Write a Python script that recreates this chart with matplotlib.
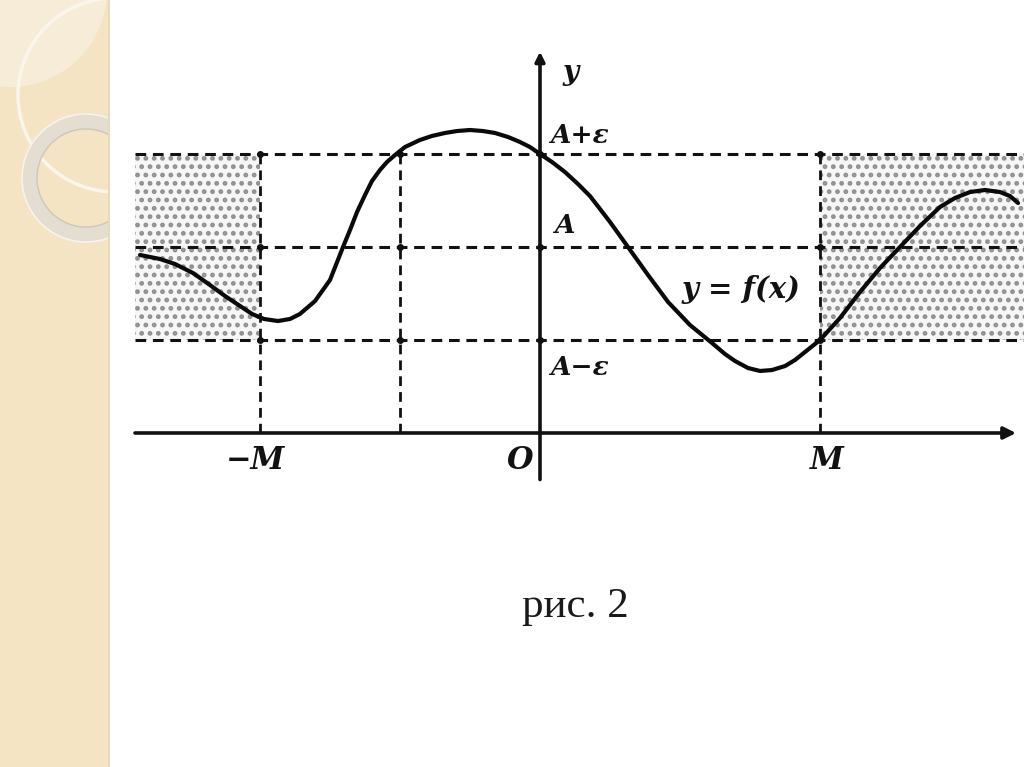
import matplotlib.pyplot as plt
from matplotlib.patches import Rectangle, Circle

# curve y = f(x) (M = 4, A = 2, eps = 1)
curve_x = [-5.714, -5.429, -5.214, -4.957, -4.714, -4.5, -4.286, -4.114, -3.943,
           -3.743, -3.571, -3.429, -3.214, -3.0, -2.814, -2.714, -2.614, -2.5,
           -2.4, -2.286, -2.186, -2.071, -1.929, -1.714, -1.543, -1.357, -1.186,
           -1.0, -0.814, -0.643, -0.457, -0.286, -0.143, 0.0, 0.171, 0.357,
           0.543, 0.714, 0.857, 1.0, 1.257, 1.543, 1.829, 2.143, 2.457, 2.643,
           2.786, 2.971, 3.143, 3.314, 3.5, 3.643, 3.786, 4.0, 4.286, 4.571,
           4.857, 5.143, 5.429, 5.714, 5.929, 6.143, 6.357, 6.571, 6.714, 6.829]
curve_y = [1.914, 1.871, 1.817, 1.720, 1.591, 1.473, 1.366, 1.280, 1.226,
           1.204, 1.226, 1.280, 1.419, 1.645, 2.0, 2.183, 2.376, 2.559,
           2.710, 2.828, 2.914, 2.989, 3.075, 3.151, 3.194, 3.226, 3.247,
           3.258, 3.247, 3.226, 3.183, 3.129, 3.075, 3.0, 2.914, 2.806,
           2.677, 2.548, 2.409, 2.269, 2.0, 1.699, 1.409, 1.161, 0.968, 0.849,
           0.774, 0.699, 0.667, 0.677, 0.720, 0.785, 0.871, 1.0, 1.237, 1.516,
           1.774, 2.0, 2.226, 2.430, 2.527, 2.591, 2.613, 2.591, 2.548, 2.473]

M = 4.0
A = 2.0
eps = 1.0
x_inner = -2.0          # extra dashed vertical between -M and O
x_left, x_right = -5.786, 6.914
levels = [A + eps, A, A - eps]
level_labels = ['A+ε', 'A', 'A−ε']
tick_pos = [-M, 0.0, M]
tick_labels = ['−M', 'O', 'M']

fig = plt.figure(figsize=(10.24, 7.67), dpi=100)
fig.patch.set_facecolor('white')

# decorative slide strip on the left
bg = fig.add_axes([0, 0, 110 / 1024, 1])
bg.set_xlim(0, 110)
bg.set_ylim(767, 0)
bg.axis('off')
bg.add_patch(Rectangle((0, 0), 110, 767, facecolor='#f4e4c4', edgecolor='none'))
bg.add_patch(Circle((10, -10), 97, facecolor='#f8eedb', edgecolor='none', alpha=0.9))
bg.add_patch(Circle((115, 95), 97, facecolor='none', edgecolor='#fbf6ec', lw=2.5))
bg.add_patch(Circle((86, 178), 57, facecolor='none', edgecolor='#e3ddd2', lw=11))
bg.add_patch(Circle((86, 178), 64, facecolor='none', edgecolor='#f8f4ec', lw=1.2))
bg.add_patch(Circle((86, 178), 49, facecolor='none', edgecolor='#cfc6b6', lw=1.0))
bg.plot([109, 109], [0, 767], color='#e9d9b8', lw=1.5)

ax = fig.add_axes([0, 0, 1, 1])
ax.set_facecolor('none')
ax.set_xlim(-540 / 70, 484 / 70)
ax.set_ylim(-334 / 93, 433 / 93)
ax.axis('off')

plt.rcParams['hatch.linewidth'] = 2.2
# dotted bands outside [-M, M]
ax.add_patch(Rectangle((x_left, A - eps), -M - x_left, 2 * eps, facecolor='#f6f6f6',
                       edgecolor='#8f8f8f', hatch='..', lw=0, zorder=1))
ax.add_patch(Rectangle((M, A - eps), x_right - M, 2 * eps, facecolor='#f6f6f6',
                       edgecolor='#8f8f8f', hatch='..', lw=0, zorder=1))

dash = (0, (3.5, 2.2))
for lv in levels:
    ax.plot([x_left, x_right], [lv, lv], color='#111111', lw=2.2, ls=dash, zorder=2)
for xv in [-M, x_inner, M]:
    ax.plot([xv, xv], [0, A + eps], color='#111111', lw=2.0, ls=dash, zorder=2)
    ax.plot([xv] * 3, levels, 'o', color='#111111', ms=4, zorder=3)
ax.plot([0] * 3, levels, 'o', color='#111111', ms=4, zorder=3)

# axes with arrows
ax.annotate('', xy=(6.8, 0), xytext=(x_left, 0),
            arrowprops=dict(arrowstyle='-|>', color='#111111', lw=2.6,
                            mutation_scale=18, shrinkA=0, shrinkB=0), zorder=4)
ax.annotate('', xy=(0, 4.1), xytext=(0, -0.5),
            arrowprops=dict(arrowstyle='-|>', color='#111111', lw=2.6,
                            mutation_scale=14, shrinkA=0, shrinkB=0), zorder=4)

ax.plot(curve_x, curve_y, color='#0a0a0a', lw=3.0, solid_capstyle='round',
        solid_joinstyle='round', zorder=5)

lab = dict(family='DejaVu Serif', style='italic', weight='bold', color='#111111')
ax.text(0.43, 3.88, 'y', fontsize=20, ha='center', va='center', **lab)
ax.text(0.14, 3.2, level_labels[0], fontsize=19, ha='left', va='center', **lab)
ax.text(0.2, 2.23, level_labels[1], fontsize=19, ha='left', va='center', **lab)
ax.text(0.14, 0.70, level_labels[2], fontsize=19, ha='left', va='center', **lab)
ax.text(2.02, 1.54, 'y = f(x)', fontsize=21, ha='left', va='center', **lab)
for xp, t in zip(tick_pos, tick_labels):
    dx = -0.07 if t == '−M' else (-0.29 if t == 'O' else 0.09)
    ax.text(xp + dx, -0.30, t, fontsize=22, ha='center', va='center', **lab)

fig.text(575 / 1024, 1 - 607 / 767, 'рис. 2', fontsize=31, family='Liberation Serif',
         ha='center', va='center', color='#1a1a1a')

fig.savefig('out.png', dpi=100)
